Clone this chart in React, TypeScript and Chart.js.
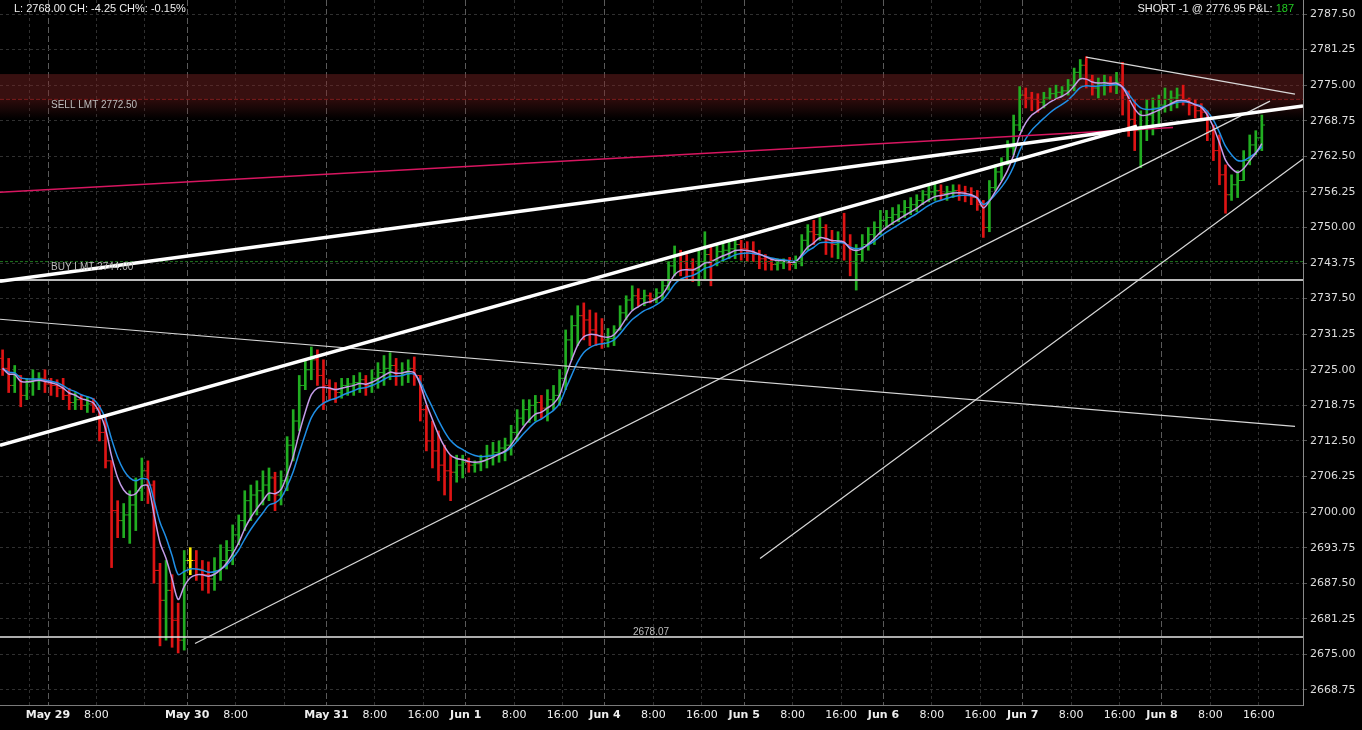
import React, { useEffect, useRef } from 'react';
import { Chart, registerables } from 'chart.js';
Chart.register(...registerables);

// ---------- data (hourly bars, x = trading hours from May 29 00:00) ----------
const FIRST_BAR_HOUR = -7.5;
const FIRST_OPEN = 2727.0;

const HIGHS = [
  2728.5, 2727.0, 2725.75, 2724.0, 2723.5, 2725.0, 2724.5, 2725.0, 2723.5, 2723.25,
  2723.5, 2721.75, 2721.0, 2720.5, 2720.25, 2720.0, 2718.75, 2716.75, 2709.0, 2702.0,
  2701.5, 2703.75, 2706.0, 2709.5, 2709.0, 2705.5, 2691.0, 2691.5, 2689.0, 2684.0,
  2693.25, 2693.75, 2693.25, 2691.5, 2691.25, 2692.0, 2694.25, 2695.0, 2697.75, 2699.5,
  2703.75, 2704.75, 2705.5, 2707.25, 2707.75, 2707.0, 2707.25, 2713.25, 2718.0, 2724.0,
  2726.75, 2729.0, 2728.5, 2726.75, 2723.25, 2722.75, 2723.5, 2723.5, 2724.0, 2724.5,
  2724.0, 2725.0, 2726.25, 2727.5, 2728.0, 2727.0, 2726.25, 2726.75, 2727.25, 2724.0,
  2718.75, 2716.0, 2714.25, 2711.75, 2710.0, 2710.0, 2710.0, 2709.5, 2709.0, 2710.0,
  2711.75, 2712.25, 2712.5, 2713.0, 2715.25, 2718.0, 2719.75, 2719.75, 2720.5, 2720.5,
  2721.5, 2722.25, 2725.0, 2732.0, 2734.5, 2736.25, 2736.75, 2735.5, 2735.0, 2734.0,
  2732.25, 2732.75, 2736.25, 2738.0, 2739.75, 2739.25, 2739.0, 2738.5, 2739.25, 2740.75,
  2744.0, 2746.75, 2746.0, 2745.25, 2744.5, 2746.0, 2749.25, 2747.0, 2747.0, 2747.5,
  2747.75, 2748.0, 2747.75, 2747.5, 2747.5, 2746.0, 2745.25, 2744.5, 2744.5, 2744.5,
  2744.75, 2745.0, 2748.75, 2750.5, 2751.25, 2751.75, 2750.5, 2749.5, 2749.25, 2752.5,
  2748.75, 2747.0, 2748.75, 2750.0, 2751.0, 2753.0, 2753.0, 2753.5, 2754.0, 2754.75,
  2755.25, 2755.75, 2756.5, 2757.25, 2757.75, 2757.5, 2757.25, 2757.5, 2757.5, 2757.25,
  2757.0, 2756.5, 2754.75, 2758.25, 2761.0, 2762.25, 2765.25, 2769.75, 2774.75, 2774.5,
  2773.75, 2773.5, 2773.75, 2774.5, 2775.0, 2774.75, 2776.0, 2778.0, 2779.5, 2780.0,
  2776.75, 2776.25, 2776.75, 2776.5, 2777.25, 2779.0, 2774.0, 2772.5, 2770.5, 2772.5,
  2772.75, 2773.25, 2774.5, 2774.0, 2774.5, 2775.0, 2772.75, 2772.5, 2771.75, 2770.5,
  2768.0, 2766.25, 2761.0, 2759.25, 2760.0, 2763.5, 2766.25, 2767.0, 2769.75,
];

const LOWS = [
  2724.0, 2721.0, 2721.0, 2718.5, 2719.75, 2720.5, 2721.5, 2721.0, 2720.5, 2720.25,
  2719.75, 2718.0, 2718.0, 2718.0, 2717.5, 2717.5, 2712.5, 2707.75, 2690.25, 2695.5,
  2695.5, 2694.5, 2696.75, 2702.0, 2701.5, 2687.5, 2676.5, 2677.5, 2676.25, 2675.25,
  2675.75, 2689.0, 2688.0, 2686.25, 2685.75, 2686.25, 2688.0, 2690.0, 2690.75, 2694.25,
  2696.75, 2698.5, 2699.5, 2701.25, 2702.0, 2700.25, 2701.25, 2703.75, 2709.0, 2714.25,
  2721.5, 2723.25, 2722.25, 2718.0, 2719.75, 2719.25, 2720.0, 2720.5, 2720.5, 2721.0,
  2720.5, 2721.0, 2721.75, 2722.25, 2723.25, 2722.25, 2722.25, 2722.75, 2722.25, 2716.0,
  2710.75, 2707.75, 2705.5, 2703.0, 2702.0, 2705.25, 2706.0, 2707.0, 2707.0, 2707.25,
  2707.75, 2708.25, 2708.75, 2709.0, 2710.0, 2712.5, 2715.25, 2715.75, 2716.0, 2716.5,
  2716.0, 2718.0, 2718.75, 2721.5, 2726.75, 2729.25, 2730.25, 2729.25, 2729.25, 2728.75,
  2729.0, 2729.25, 2732.0, 2733.75, 2735.5, 2736.25, 2736.25, 2736.75, 2736.75, 2737.25,
  2739.0, 2741.5, 2741.5, 2740.75, 2740.5, 2739.75, 2740.75, 2739.75, 2743.25, 2744.0,
  2744.5, 2744.5, 2744.25, 2744.0, 2744.0, 2742.75, 2742.5, 2742.5, 2742.5, 2742.75,
  2742.5, 2742.75, 2743.25, 2746.0, 2747.0, 2747.75, 2745.25, 2744.75, 2744.5, 2744.25,
  2741.5, 2739.0, 2744.0, 2746.0, 2747.0, 2748.75, 2750.0, 2750.5, 2751.0, 2751.75,
  2752.25, 2752.75, 2754.0, 2754.5, 2754.75, 2754.75, 2754.75, 2755.25, 2754.75, 2754.5,
  2754.0, 2753.0, 2748.25, 2749.25, 2756.5, 2758.25, 2761.0, 2762.75, 2767.0, 2771.0,
  2770.5, 2770.25, 2771.0, 2772.5, 2772.75, 2773.0, 2773.25, 2774.0, 2776.0, 2774.5,
  2773.25, 2772.75, 2773.25, 2773.75, 2773.5, 2769.75, 2766.0, 2763.5, 2760.5, 2765.25,
  2766.25, 2768.0, 2770.25, 2770.5, 2771.0, 2771.5, 2769.75, 2769.25, 2769.0, 2765.25,
  2761.75, 2757.5, 2752.5, 2754.75, 2755.25, 2758.25, 2761.0, 2762.75, 2763.5,
];

const CLOSES = [
  2725.25, 2722.25, 2724.0, 2720.5, 2722.75, 2723.25, 2723.5, 2722.5, 2722.25, 2721.75,
  2720.5, 2719.25, 2719.75, 2718.75, 2719.0, 2718.25, 2714.0, 2709.0, 2700.25, 2698.5,
  2699.5, 2701.25, 2703.75, 2707.25, 2704.75, 2689.75, 2684.5, 2686.25, 2681.0, 2677.5,
  2691.5, 2691.5, 2690.0, 2689.0, 2688.25, 2689.75, 2691.5, 2693.25, 2696.0, 2698.5,
  2702.0, 2703.0, 2703.75, 2704.75, 2706.0, 2703.0, 2705.5, 2711.75, 2716.0, 2722.25,
  2725.0, 2726.75, 2724.0, 2722.25, 2721.5, 2721.0, 2722.25, 2722.5, 2722.75, 2723.25,
  2722.25, 2723.5, 2724.5, 2725.25, 2725.75, 2724.0, 2724.5, 2725.25, 2724.0, 2718.0,
  2712.5, 2710.75, 2708.25, 2707.25, 2707.0, 2708.25, 2708.75, 2708.25, 2708.5, 2709.0,
  2710.0, 2710.5, 2711.25, 2711.75, 2714.0, 2716.5, 2718.0, 2718.75, 2719.25, 2718.25,
  2719.75, 2720.5, 2723.5, 2730.25, 2732.75, 2734.5, 2733.75, 2732.0, 2731.0, 2730.25,
  2730.5, 2732.0, 2735.0, 2737.25, 2738.0, 2737.5, 2738.0, 2737.5, 2738.5, 2739.75,
  2743.25, 2745.25, 2744.0, 2742.75, 2742.5, 2744.0, 2745.25, 2744.25, 2745.75, 2746.0,
  2746.25, 2747.0, 2746.25, 2745.75, 2745.25, 2744.5, 2744.0, 2743.5, 2743.75, 2744.0,
  2743.5, 2744.0, 2747.75, 2749.25, 2748.75, 2750.0, 2747.75, 2747.0, 2747.5, 2747.0,
  2744.0, 2745.25, 2747.0, 2748.75, 2750.0, 2751.25, 2751.75, 2752.25, 2752.75, 2753.5,
  2754.0, 2754.75, 2755.75, 2756.25, 2756.5, 2756.0, 2756.25, 2756.5, 2756.25, 2755.75,
  2755.25, 2754.0, 2750.0, 2757.0, 2759.75, 2761.5, 2764.0, 2768.0, 2773.25, 2772.75,
  2772.5, 2772.0, 2772.75, 2773.5, 2773.75, 2774.0, 2775.0, 2777.25, 2778.5, 2776.0,
  2774.5, 2775.0, 2775.5, 2775.0, 2775.5, 2773.25, 2769.0, 2767.0, 2767.5, 2769.75,
  2771.0, 2771.5, 2772.5, 2772.75, 2773.25, 2772.5, 2771.5, 2770.5, 2770.25, 2767.0,
  2763.5, 2759.25, 2755.75, 2757.5, 2758.25, 2761.75, 2764.5, 2765.75, 2768.0,
];

const X_TICK_HOURS = [-3.1, 0, 8, 16, 23, 31, 39, 46, 54, 62, 69, 77, 85, 92, 100, 108, 115, 123, 131, 138, 146, 154, 161, 169, 177, 184, 192, 200];
const X_TICK_LABELS = ['', 'May 29', '8:00', '', 'May 30', '8:00', '', 'May 31', '8:00', '16:00', 'Jun 1', '8:00', '16:00', 'Jun 4', '8:00', '16:00', 'Jun 5', '8:00', '16:00', 'Jun 6', '8:00', '16:00', 'Jun 7', '8:00', '16:00', 'Jun 8', '8:00', '16:00'];
const Y_TICKS = [2668.75, 2675, 2681.25, 2687.5, 2693.75, 2700, 2706.25, 2712.5, 2718.75, 2725, 2731.25, 2737.5, 2743.75, 2750, 2756.25, 2762.5, 2768.75, 2775, 2781.25, 2787.5];

const X_MIN = -7.93;
const X_MAX = 207.3;
const Y_MIN = 2666.11;
const Y_MAX = 2789.96;

const ENTRY_PRICE = 2776.95;
const SELL_LIMIT = 2772.5;
const BUY_LIMIT = 2744.0;
const SUPPORT_LEVEL = 2740.75;
const SWING_LOW = 2678.07;
const ZONE_FADE_TO = 2769.0;

// drawings: [startHour, startPrice, endHour, endPrice]
const THICK_LINES = [
  [-7.93, 2740.56, 207.3, 2771.34],
  [-7.93, 2711.72, 179.88, 2767.81],
];
const PINK_LINES = [[-7.93, 2756.2, 185.83, 2767.54]];
const THIN_LINES = [
  [-7.93, 2733.88, 205.98, 2715.06],
  [24.28, 2676.91, 201.85, 2772.2],
  [117.61, 2691.86, 207.3, 2762.01],
  [171.46, 2779.94, 205.98, 2773.43],
];

const FAST_EMA = 5;
const SLOW_EMA = 8;

const HEADER_LEFT = 'L: 2768.00 CH: -4.25 CH%: -0.15%';
const HEADER_RIGHT = 'SHORT -1 @ 2776.95 P&L: ';
const HEADER_PNL = '187';

// ---------- helpers ----------
function ema(values: number[], n: number) {
  const a = 2 / (n + 1);
  const out: number[] = [];
  let e = values[0];
  values.forEach((v, i) => {
    e = i === 0 ? v : e + a * (v - e);
    out.push(e);
  });
  return out;
}

const isDay = (i: any) => typeof i === 'number' && /^(May|Jun)/.test(X_TICK_LABELS[i] || '');

export default function App() {
  const ref = useRef<HTMLCanvasElement | null>(null);

  useEffect(() => {
    const canvas = ref.current;
    if (!canvas) return;

    const opens = CLOSES.map((c, i) => (i === 0 ? FIRST_OPEN : CLOSES[i - 1]));
    const hours = CLOSES.map((_, i) => FIRST_BAR_HOUR + i);
    const colors = CLOSES.map((c, i) => (c > opens[i] ? '#21ad21' : c < opens[i] ? '#de1414' : '#ffee00'));

    const fast = ema(CLOSES, FAST_EMA);
    const slow = ema(CLOSES, SLOW_EMA);

    const seg = (s: number[], color: string, width: number, order: number, dash: number[] = []) => ({
      type: 'line' as const,
      data: [{ x: s[0], y: s[1] }, { x: s[2], y: s[3] }],
      borderColor: color,
      borderWidth: width,
      borderDash: dash,
      pointRadius: 0,
      tension: 0,
      order,
      borderCapStyle: 'butt' as const,
    });
    const level = (v: number, color: string, width: number, dash: number[] = []) =>
      seg([X_MIN, v, X_MAX, v], color, width, 3, dash);

    const overlay = {
      id: 'overlay',
      beforeDatasetsDraw(chart: any) {
        const { ctx, chartArea, scales } = chart;
        const y = scales.y;
        const top = y.getPixelForValue(ENTRY_PRICE);
        const mid = y.getPixelForValue(SELL_LIMIT);
        const end = y.getPixelForValue(ZONE_FADE_TO);
        ctx.save();
        ctx.fillStyle = 'rgba(125,36,36,0.45)';
        ctx.fillRect(chartArea.left, top, chartArea.right - chartArea.left, mid - top);
        const g = ctx.createLinearGradient(0, mid, 0, end);
        g.addColorStop(0, 'rgba(100,26,26,0.45)');
        g.addColorStop(1, 'rgba(100,26,26,0)');
        ctx.fillStyle = g;
        ctx.fillRect(chartArea.left, mid, chartArea.right - chartArea.left, end - mid);
        ctx.restore();
      },
      afterDraw(chart: any) {
        const { ctx, scales, chartArea } = chart;
        const y = scales.y;
        ctx.save();
        ctx.textBaseline = 'middle';
        ctx.font = '10px "Liberation Sans", Arial, sans-serif';
        ctx.fillStyle = '#bdbdbd';
        ctx.textAlign = 'left';
        ctx.fillText('SELL LMT 2772.50', chartArea.left + 51, y.getPixelForValue(SELL_LIMIT) + 6);
        ctx.fillText('BUY LMT 2744.00', chartArea.left + 51, y.getPixelForValue(BUY_LIMIT) + 6);
        ctx.textAlign = 'center';
        ctx.fillText(SWING_LOW.toFixed(2), 651, y.getPixelForValue(SWING_LOW) - 5);

        ctx.font = '11px "Liberation Sans", Arial, sans-serif';
        ctx.textAlign = 'left';
        ctx.fillStyle = '#eeeeee';
        ctx.fillText(HEADER_LEFT, 14, 9);
        ctx.textAlign = 'right';
        const rx = 1294;
        ctx.fillStyle = '#22cc22';
        ctx.fillText(HEADER_PNL, rx, 9);
        const w = ctx.measureText(HEADER_PNL).width;
        ctx.fillStyle = '#eeeeee';
        ctx.fillText(HEADER_RIGHT, rx - w, 9);
        ctx.restore();
      },
    };

    const chart = new Chart(canvas, {
      type: 'line',
      data: {
        datasets: [
          ...THICK_LINES.map((s) => seg(s, '#ffffff', 3.5, 1)),
          ...PINK_LINES.map((s) => seg(s, '#d81660', 1.5, 1)),
          ...THIN_LINES.map((s) => seg(s, '#d8d8d8', 1.2, 1)),
          level(SUPPORT_LEVEL, '#bbbbbb', 2),
          level(SWING_LOW, '#e6e6e6', 1.5),
          level(BUY_LIMIT, '#1f7a1f', 1, [3, 2]),
          level(SELL_LIMIT, '#7a1c1c', 1, [4, 2]),
          {
            type: 'line',
            data: hours.map((h, i) => ({ x: h, y: fast[i] })),
            borderColor: '#c49ce8',
            borderWidth: 1.5,
            pointRadius: 0,
            tension: 0.3,
            order: 5,
          },
          {
            type: 'line',
            data: hours.map((h, i) => ({ x: h, y: slow[i] })),
            borderColor: '#1f8fe6',
            borderWidth: 1.5,
            pointRadius: 0,
            tension: 0.3,
            order: 6,
          },
          {
            type: 'line',
            data: hours.map((h, i) => ({ x: h - 0.25, y: opens[i] })),
            showLine: false,
            pointStyle: 'line',
            pointRadius: 1.6,
            pointBorderWidth: 1,
            pointBorderColor: colors,
            pointBackgroundColor: colors,
            order: 9,
          },
          {
            type: 'line',
            data: hours.map((h, i) => ({ x: h + 0.25, y: CLOSES[i] })),
            showLine: false,
            pointStyle: 'line',
            pointRadius: 1.6,
            pointBorderWidth: 1,
            pointBorderColor: colors,
            pointBackgroundColor: colors,
            order: 9,
          },
          {
            type: 'bar',
            data: hours.map((h, i) => ({ x: h, y: [LOWS[i], HIGHS[i]] })),
            backgroundColor: colors,
            borderWidth: 0,
            barThickness: 2,
            order: 10,
          },
        ] as any,
      },
      options: {
        animation: false,
        responsive: false,
        devicePixelRatio: 1,
        events: [],
        layout: { padding: 0, autoPadding: false },
        plugins: { legend: { display: false }, tooltip: { enabled: false } },
        scales: {
          x: {
            type: 'linear',
            min: X_MIN,
            max: X_MAX,
            offset: false,
            afterFit: (s: any) => {
              s.height = 25;
              s.paddingLeft = 0;
              s.paddingRight = 0;
            },
            afterBuildTicks: (s: any) => {
              s.ticks = X_TICK_HOURS.map((v) => ({ value: v }));
            },
            grid: {
              offset: false,
              drawTicks: false,
              color: (c: any) => (isDay(c.index) ? '#5a5a5a' : '#303030'),
              lineWidth: 1,
            },
            border: {
              display: true,
              color: '#7a7a7a',
              width: 1,
              dash: (c: any) => (c && typeof c.index === 'number' ? (isDay(c.index) ? [6, 3] : [3, 3]) : []),
            },
            ticks: {
              autoSkip: false,
              maxRotation: 0,
              minRotation: 0,
              padding: 4,
              color: '#eeeeee',
              font: (c: any) => ({
                family: '"DejaVu Sans", Verdana, sans-serif',
                size: 11,
                weight: isDay(c.index) ? 'bold' : 'normal',
              }),
              callback: (_v: any, i: number) => X_TICK_LABELS[i],
            },
          },
          y: {
            type: 'linear',
            position: 'right',
            min: Y_MIN,
            max: Y_MAX,
            afterFit: (s: any) => {
              s.width = 59;
              s.paddingTop = 0;
              s.paddingBottom = 0;
            },
            afterBuildTicks: (s: any) => {
              s.ticks = Y_TICKS.map((v) => ({ value: v }));
            },
            grid: {
              color: '#303030',
              lineWidth: 1,
              drawTicks: true,
              tickLength: 4,
              tickColor: '#555555',
            },
            border: {
              display: true,
              color: '#8a8a8a',
              width: 1,
              dash: (c: any) => (c && typeof c.index === 'number' ? [3, 3] : []),
            },
            ticks: {
              padding: 3,
              color: '#dddddd',
              font: { family: '"DejaVu Sans", Verdana, sans-serif', size: 11 },
              callback: (v: any) => Number(v).toFixed(2),
            },
          },
        },
      } as any,
      plugins: [overlay],
    });

    return () => chart.destroy();
  }, []);

  return (
    <div style={{ position: 'fixed', left: 0, top: 0, width: 1362, height: 730, background: '#000' }}>
      <canvas ref={ref} width={1362} height={730} style={{ display: 'block', width: 1362, height: 730 }} />
    </div>
  );
}
